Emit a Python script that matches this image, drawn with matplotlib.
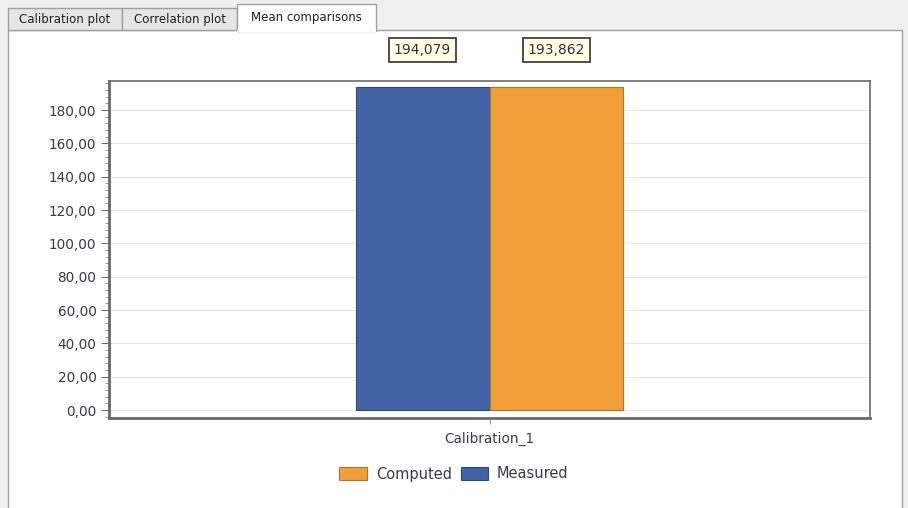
import matplotlib.pyplot as plt
from matplotlib.patches import Rectangle
from matplotlib.ticker import MultipleLocator, FuncFormatter

# Mean comparison values
categories = ["Calibration_1"]
series_names = ["Measured", "Computed"]
measured = [194.079]
computed = [193.862]
tab_names = ["Calibration plot", "Correlation plot", "Mean comparisons"]

W, H = 908, 508
BLUE = "#4264a5"
ORANGE = "#f29e38"
FRAME = "#a0a0a0"


def px(x, y):
    """Pixel position (from top-left) to figure fraction."""
    return x / W, 1 - y / H


def comma_fmt(v, pos=None):
    return f"{v:.2f}".replace(".", ",")


fig = plt.figure(figsize=(W / 100, H / 100), dpi=100)
fig.patch.set_facecolor("#f0f0f0")

# tab panel
x0, y0 = px(8, 30)
x1, y1 = px(902, 512)
fig.patches.append(Rectangle((x0, y1), x1 - x0, y0 - y1, transform=fig.transFigure,
                             facecolor="white", edgecolor=FRAME, lw=1, zorder=-2))

tab_edges = [(8, 122), (122, 237), (237, 376)]
for i, (name, (a, b)) in enumerate(zip(tab_names, tab_edges)):
    active = i == len(tab_names) - 1
    top = 4 if active else 8
    bottom = 31 if active else 30
    fx0, fy0 = px(a, bottom)
    fx1, fy1 = px(b, top)
    fig.patches.append(Rectangle((fx0, fy0), fx1 - fx0, fy1 - fy0, transform=fig.transFigure,
                                 facecolor="white" if active else "#e6e6e6",
                                 edgecolor=FRAME, lw=1, zorder=-1))
    tx, ty = px((a + b) / 2, (top + bottom) / 2 + (0 if active else 1))
    fig.text(tx, ty, name, ha="center", va="center", fontsize=8.5, color="#202020",
             family="DejaVu Sans", zorder=2)
# hide the panel border under the active tab
fa, fb = px(238, 30.5)
fc, _ = px(375, 30.5)
fig.add_artist(plt.Line2D([fa, fc], [fb, fb], transform=fig.transFigure, color="white", lw=1.5, zorder=3))

# plot area
l, t = px(109, 81)
r, b = px(870, 418)
ax = fig.add_axes([l, b, r - l, t - b])
ax.set_zorder(5)
ax.set_facecolor("white")

width = 0.352
xs = list(range(len(categories)))
ax.bar([x - width / 2 for x in xs], measured, width, color=BLUE, edgecolor="#2d4878", lw=0.8, zorder=3)
ax.bar([x + width / 2 for x in xs], computed, width, color=ORANGE, edgecolor="#b97420", lw=0.8, zorder=3)

ax.set_xlim(-1, 1)
ax.set_ylim(-4.8, 197.4)
ax.set_xticks(xs)
ax.set_xticklabels(categories)
ax.yaxis.set_major_locator(MultipleLocator(20))
ax.yaxis.set_minor_locator(MultipleLocator(4))
ax.yaxis.set_major_formatter(FuncFormatter(comma_fmt))
ax.grid(axis="y", which="major", color="#e6e6e6", lw=0.8, zorder=0)
ax.tick_params(axis="y", which="major", length=6, color="#707070", labelsize=9.8,
               labelcolor="#3a3a48", pad=3)
ax.tick_params(axis="y", which="minor", length=3, color="#909090")
ax.tick_params(axis="x", length=4, color="#a0a0a0", labelsize=9.8, labelcolor="#3a3a48", pad=6)
for side, sp in ax.spines.items():
    sp.set_color("#6a6a6a")
    sp.set_linewidth(2 if side in ("left", "bottom") else 1.2)

# value callouts above each bar
for vals, off in ((measured, -width / 2), (computed, width / 2)):
    for x, v in zip(xs, vals):
        ax.annotate(f"{v:.3f}".replace(".", ","), xy=(x + off, 1), xycoords=("data", "axes fraction"),
                    xytext=(0, 31), textcoords="offset pixels", ha="center", va="center",
                    fontsize=10, color="#303048", family="DejaVu Sans",
                    bbox=dict(boxstyle="square,pad=0.35", fc="#ffffe1", ec="#404040", lw=1.3),
                    annotation_clip=False)

handles = [Rectangle((0, 0), 1, 1, fc=ORANGE, ec="#b97420", lw=0.8),
           Rectangle((0, 0), 1, 1, fc=BLUE, ec="#2d4878", lw=0.8)]
lx, ly = px(454, 474)
fig.legend(handles, ["Computed", "Measured"], loc="center", bbox_to_anchor=(lx, ly),
           ncol=2, frameon=False, fontsize=10.5, handlelength=1.9, handleheight=0.9,
           handletextpad=0.6, columnspacing=0.6, labelcolor="#3a3a48")

fig.savefig("out.png", dpi=100, facecolor=fig.get_facecolor())
